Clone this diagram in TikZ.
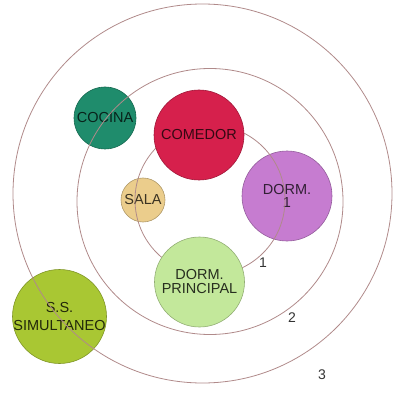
\documentclass[tikz,border=0pt]{standalone}
\usepackage{fontspec}
\setmainfont{Liberation Sans}
\usepackage{tikz}
\definecolor{ringline}{HTML}{B08A8A}
\definecolor{cocinagreen}{HTML}{1F8C6C}
\definecolor{comedorred}{HTML}{D6204C}
\definecolor{dormpurple}{HTML}{C67CD0}
\definecolor{salatan}{HTML}{EBCD8C}
\definecolor{dormgreen}{HTML}{C3E89B}
\definecolor{ssgreen}{HTML}{A9C733}
\definecolor{numgrey}{HTML}{333333}

\begin{document}
\begin{tikzpicture}[
  x=1pt,y=-1pt,
  ring/.style={draw=ringline,circle,line width=0.8pt,inner sep=0pt},
  room/.style={circle,inner sep=0pt,line width=0.6pt,
               draw=#1!75!black,fill=#1},
  roomlabel/.style={align=center,inner sep=0pt,
                    font=\fontsize{14.5}{14}\selectfont},
  ringnum/.style={text=numgrey,inner sep=0pt,font=\fontsize{14}{14}\selectfont}
]
\useasboundingbox (0,0) rectangle (400,403);

% rooms lying under the rings
\node[room=cocinagreen,minimum size=62,
      label={[roomlabel,text=cocinagreen!25!black]center:COCINA}] (cocina) at (105,118) {};
\node[room=salatan,minimum size=44,
      label={[roomlabel,text=salatan!25!black]center:SALA}] (sala) at (143,200) {};
\node[room=dormpurple,minimum size=90,
      label={[roomlabel,text=dormpurple!25!black,
              font=\fontsize{14.5}{13.5}\selectfont]center:DORM.\\1}] (dormuno) at (287,196) {};
\node[room=ssgreen,minimum size=94,
      label={[roomlabel,text=ssgreen!20!black,
              font=\fontsize{14.5}{18}\selectfont]center:S.S.\\SIMULTANEO}] (ss) at (59.5,316.5) {};

% rings
\node[ring,minimum size=150] (ringuno) at (210,200) {};
\node[ring,minimum size=266] (ringdos) at (210,201.5) {};
\node[ring,minimum size=379] (ringtres) at (202.5,193.5) {};

% rooms on top of the rings
\node[room=comedorred,minimum size=90,
      label={[roomlabel,text=comedorred!25!black]center:COMEDOR}] (comedor) at (199,135) {};
\node[room=dormgreen,minimum size=90,
      label={[roomlabel,text=dormgreen!20!black,
              font=\fontsize{14.5}{14}\selectfont]center:DORM.\\PRINCIPAL}] (dormprin) at (199.5,282) {};

% ring numbers
\node[ringnum] (numuno) at (263,263) {1};
\node[ringnum] (numdos) at (292,318) {2};
\node[ringnum] (numtres) at (322,375) {3};
\end{tikzpicture}
\end{document}
